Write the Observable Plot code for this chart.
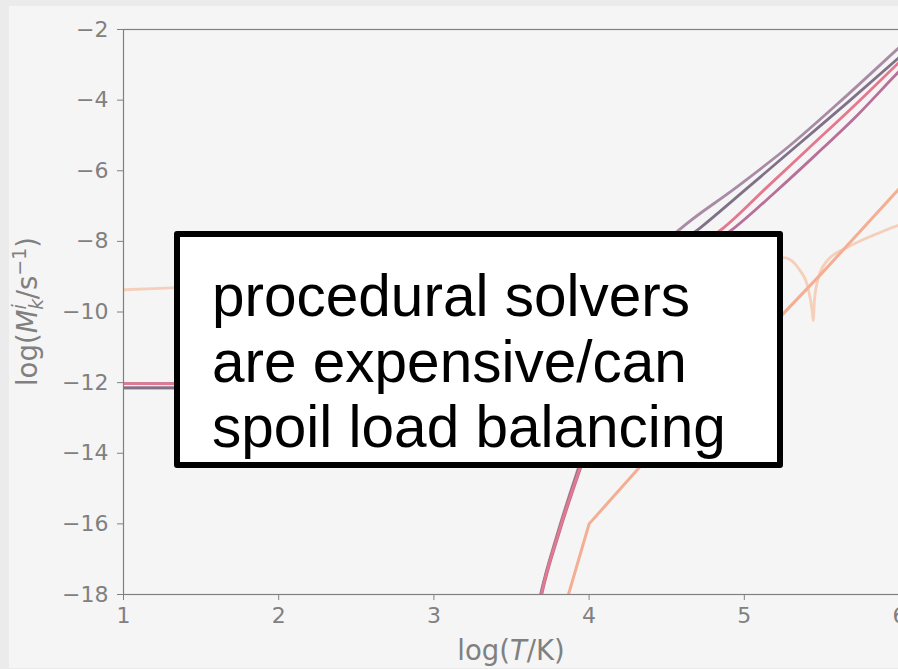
<!DOCTYPE html>
<html>
<head>
<meta charset="utf-8">
<script src="https://cdn.jsdelivr.net/npm/d3@7"></script>
<script src="https://cdn.jsdelivr.net/npm/@observablehq/plot@0.6"></script>
<style>
  html, body { margin: 0; padding: 0; background: #ebebeb; overflow: hidden; width: 898px; height: 669px; }
  #panel { position: absolute; left: 9px; top: 6px; width: 889px; height: 662px; background: #f5f5f5; overflow: hidden; }
  #panel svg { max-width: none; }
  #note {
    position: absolute; left: 165px; top: 225px; width: 609px; height: 237px;
    box-sizing: border-box; border: 6px solid #000; border-radius: 3px; background: #fff;
    padding: 26px 0 0 32px;
    font-family: "Liberation Sans", Arial, sans-serif; font-size: 58.5px; line-height: 65.5px; color: #000;
    white-space: nowrap;
  }
</style>
</head>
<body>
<div id="panel"><div id="note">procedural solvers<br>are expensive/can<br>spoil load balancing</div></div>
<script>
// Mass-exchange rates log(M_k^i / s^-1) against temperature log(T/K)
const xTicks = [1, 2, 3, 4, 5, 6];
const yTicks = [-2, -4, -6, -8, -10, -12, -14, -16, -18];

// Species k (four closely spaced tracks); NaN marks where the rate changes sign
const mauveT = [1.0, 2.0, 3.0, 3.3, 3.45, 3.62, 3.687, 3.796, 3.93, 4.1, 4.3, 4.45, 4.59, 4.94, 5.29, 5.64, 5.99, 6.2];
const mauveM = [-12.02, -12.03, -12.05, -12.3, NaN, -19.5, -18.0, -16.27, -14.42, -12.1, -9.6, -8.2, -7.64, -6.5, -5.3, -3.95, -2.54, -1.7];

const slateT = [1.0, 2.0, 3.0, 3.3, 3.45, 3.625, 3.69, 3.80, 3.935, 4.12, 4.35, 4.55, 4.71, 5.03, 5.35, 5.67, 5.99, 6.2];
const slateM = [-12.15, -12.15, -12.17, -12.4, NaN, -19.5, -18.0, -16.27, -14.42, -12.1, -9.7, -8.2, -7.64, -6.45, -5.25, -4.05, -2.82, -2.0];

const roseT = [1.0, 2.0, 3.0, 3.3, 3.45, 3.628, 3.692, 3.802, 3.94, 4.15, 4.45, 4.68, 4.86, 5.15, 5.43, 5.71, 5.99, 6.2];
const roseM = [-12.03, -12.04, -12.06, -12.3, NaN, -19.5, -18.0, -16.27, -14.42, -11.9, -9.2, -8.2, -7.64, -6.45, -5.3, -4.15, -2.96, -2.07];

const plumT = [1.0, 2.0, 3.0, 3.3, 3.45, 3.63, 3.695, 3.806, 3.945, 4.17, 4.5, 4.75, 4.93, 5.2, 5.46, 5.73, 5.99, 6.2];
const plumM = [-12.15, -12.15, -12.17, -12.4, NaN, -19.5, -18.0, -16.27, -14.42, -11.8, -9.0, -8.2, -7.64, -6.6, -5.55, -4.42, -3.22, -2.3];

// Species i (two tracks)
const salmonT = [3.8, 3.867, 4.0, 4.318, 5.0, 5.253, 5.5, 5.987, 6.2];
const salmonM = [-19.0, -18.0, -16.0, -14.43, -11.2, -10.04, -8.9, -6.56, -5.6];

const peachT = [1.0, 1.35, 2.0, 3.0, 4.0, 5.0, 5.253, 5.36, 5.41, 5.437, 5.444, 5.452, 5.478, 5.536, 5.665, 5.83, 5.99, 6.2];
const peachM = [-9.37, -9.31, -9.2, -9.0, -8.8, -8.5, -8.46, -8.83, -9.31, -9.96, -10.24, -9.67, -9.02, -8.54, -8.17, -7.83, -7.55, -7.3];

const series = [
  {name: "peach", T: peachT, M: peachM, color: "#f6cfba", width: 2.8, curve: "monotone-x"},
  {name: "salmon", T: salmonT, M: salmonM, color: "#f4ae93", width: 3, curve: "linear"},
  {name: "mauve", T: mauveT, M: mauveM, color: "#a98ba5", width: 2.8, curve: "monotone-x"},
  {name: "plum", T: plumT, M: plumM, color: "#b8709a", width: 2.8, curve: "monotone-x"},
  {name: "slate", T: slateT, M: slateM, color: "#7f7288", width: 2.8, curve: "monotone-x"},
  {name: "rose", T: roseT, M: roseM, color: "#e3788f", width: 2.8, curve: "monotone-x"}
];

const lineMarks = series.map(s =>
  Plot.line(s.T.map((t, i) => ({T: t, M: s.M[i]})), {
    x: "T", y: "M", stroke: s.color, strokeWidth: s.width, curve: s.curve, clip: true
  })
);

const fmt = d3.format("d");

const chart = Plot.plot({
  width: 950,
  height: 662,
  marginLeft: 114,
  marginRight: 60,
  marginTop: 23,
  marginBottom: 74,
  style: {background: "none", color: "#808080", fontFamily: "DejaVu Sans", fontSize: "22px", overflow: "visible", maxWidth: "none"},
  x: {domain: [1, 6], label: null},
  y: {domain: [-18, -2], label: null},
  marks: [
    ...lineMarks,
    Plot.frame({stroke: "#808080", strokeWidth: 1.2}),
    Plot.axisX({ticks: xTicks, tickFormat: fmt, tickSize: 6, tickPadding: 7, label: null, fill: "#808080"}),
    Plot.axisY({ticks: yTicks, tickFormat: fmt, tickSize: 6, tickPadding: 9, label: null, fill: "#808080"})
  ]
});

document.getElementById("panel").prepend(chart);

// Axis titles with italic symbols, sub- and superscripts
const svg = d3.select(chart);
const xs = chart.scale("x"), ys = chart.scale("y");

const xt = svg.append("text")
  .attr("x", xs.apply(3.5)).attr("y", 654)
  .attr("text-anchor", "middle")
  .attr("fill", "#808080")
  .style("font-family", "DejaVu Sans").style("font-size", "27.5px");
xt.append("tspan").text("log(");
xt.append("tspan").attr("font-style", "italic").text("T");
xt.append("tspan").text("/K)");

const yt = svg.append("text")
  .attr("transform", `translate(28,${ys.apply(-10)}) rotate(-90)`)
  .attr("text-anchor", "middle")
  .attr("fill", "#808080")
  .style("font-family", "DejaVu Sans").style("font-size", "27.5px");
yt.append("tspan").text("log(");
yt.append("tspan").attr("font-style", "italic").text("M");
yt.append("tspan").attr("font-style", "italic").attr("font-size", "19px").attr("dy", 6).text("k");
yt.append("tspan").attr("font-style", "italic").attr("font-size", "19px").attr("dx", -11).attr("dy", -17).text("i");
yt.append("tspan").attr("dx", 5).attr("dy", 11).text("/s");
yt.append("tspan").attr("font-size", "19px").attr("dy", -11).text("−1");
yt.append("tspan").attr("dy", 11).text(")");
</script>
</body>
</html>
